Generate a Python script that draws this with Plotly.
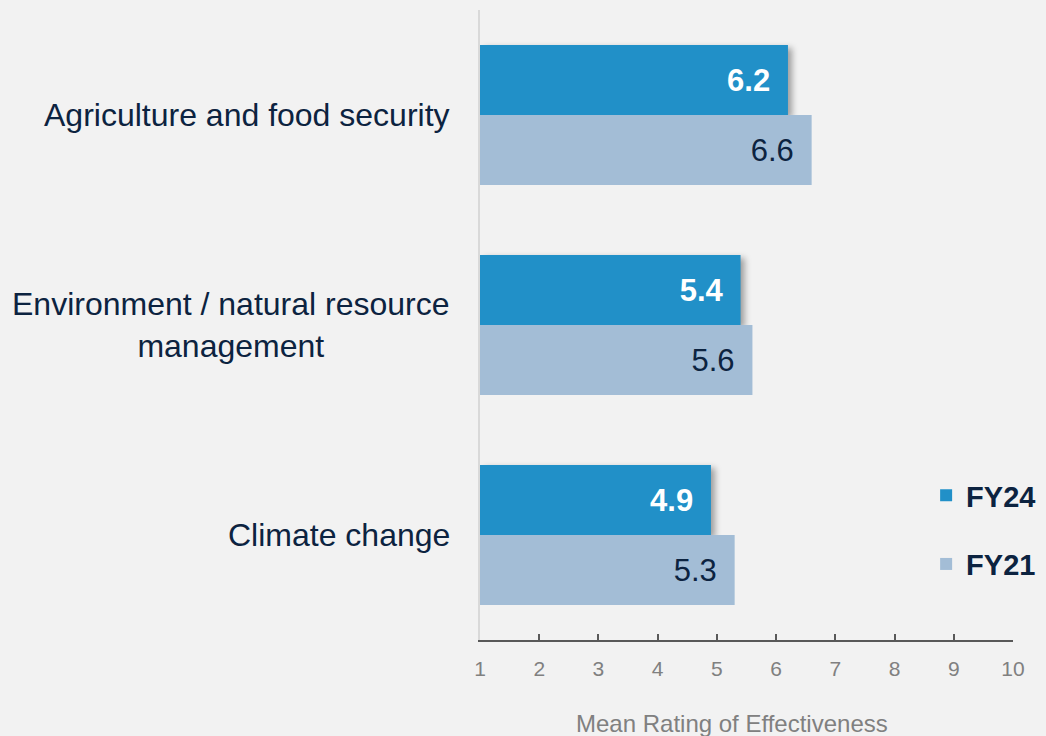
import plotly.graph_objects as go

categories = ["Agriculture and food security",
              "Environment / natural resource<br>management",
              "Climate change"]
fy24 = [6.2, 5.4, 4.9]
fy21 = [6.6, 5.6, 5.3]
tick_vals = [1, 2, 3, 4, 5, 6, 7, 8, 9, 10]
x_title = "Mean Rating of Effectiveness"

NAVY = "#0c2340"
C24 = "#2190c8"
C21 = "#a3bdd6"
FONT = "Liberation Sans, Arial, sans-serif"
PAD = "\u00a0\u2009"

fig = go.Figure()
fig.add_trace(go.Bar(
    y=categories, x=[v - 1 for v in fy24], base=1, orientation="h", name="<b>FY24</b>",
    marker=dict(color=C24, line=dict(width=0)),
    text=[f"<b>{v:.1f}</b>{PAD}" for v in fy24],
    textposition="inside", insidetextanchor="end",
    textfont=dict(color="white", size=31, family=FONT),
    legendgroup="a", hoverinfo="skip",
))
fig.add_trace(go.Bar(
    y=categories, x=[v - 1 for v in fy21], base=1, orientation="h", name="<b>FY21</b>",
    marker=dict(color=C21, line=dict(width=0)),
    text=[f"{v:.1f}{PAD}" for v in fy21],
    textposition="inside", insidetextanchor="end",
    textfont=dict(color=NAVY, size=31, family=FONT),
    legendgroup="b", hoverinfo="skip",
))

for c in categories:
    fig.add_annotation(x=0, xref="paper", y=c, yref="y", text=c,
                       showarrow=False, xanchor="right", align="center",
                       xshift=-28, font=dict(size=32, color=NAVY, family=FONT))

fig.add_annotation(x=0.5, xref="paper", y=0, yref="paper", text=x_title,
                   showarrow=False, xanchor="center", yanchor="middle",
                   xshift=-15, yshift=-83,
                   font=dict(size=24, color="#808080", family=FONT))

fig.update_layout(
    width=1046, height=736,
    paper_bgcolor="#f2f2f2", plot_bgcolor="#f2f2f2",
    margin=dict(l=480, r=33, t=10, b=96, autoexpand=False),
    barmode="group", bargap=1/3, bargroupgap=0,
    font=dict(family=FONT),
    legend=dict(x=0.837, y=0.27, xanchor="left", yanchor="top",
                bgcolor="rgba(0,0,0,0)", tracegroupgap=28,
                font=dict(size=29, color=NAVY, family=FONT),
                itemwidth=30, traceorder="grouped"),
    showlegend=True,
)
fig.update_xaxes(
    range=[1, 10], tickvals=tick_vals, showgrid=False, zeroline=False,
    automargin=False,
    showline=True, linecolor="#595959", linewidth=2,
    ticks="inside", ticklen=6, tickwidth=2, tickcolor="#595959",
    tickfont=dict(size=21, color="#808080", family=FONT),
    ticklabelstandoff=9,
)
fig.update_yaxes(
    autorange="reversed", showticklabels=False, showgrid=False,
    automargin=False,
    showline=True, linecolor="#d9d9d9", linewidth=2, ticks="",
)

post = """
document.body.style.margin='0';
var tr = document.querySelectorAll('.barlayer .trace.bars');
if (tr.length) {
  tr[0].querySelectorAll('.point path').forEach(function(p){
    p.style.filter = 'drop-shadow(4px 3px 3px rgba(0,0,0,0.35))';
  });
}
"""
fig.write_html("out.html", config={"displayModeBar": False}, post_script=post)
